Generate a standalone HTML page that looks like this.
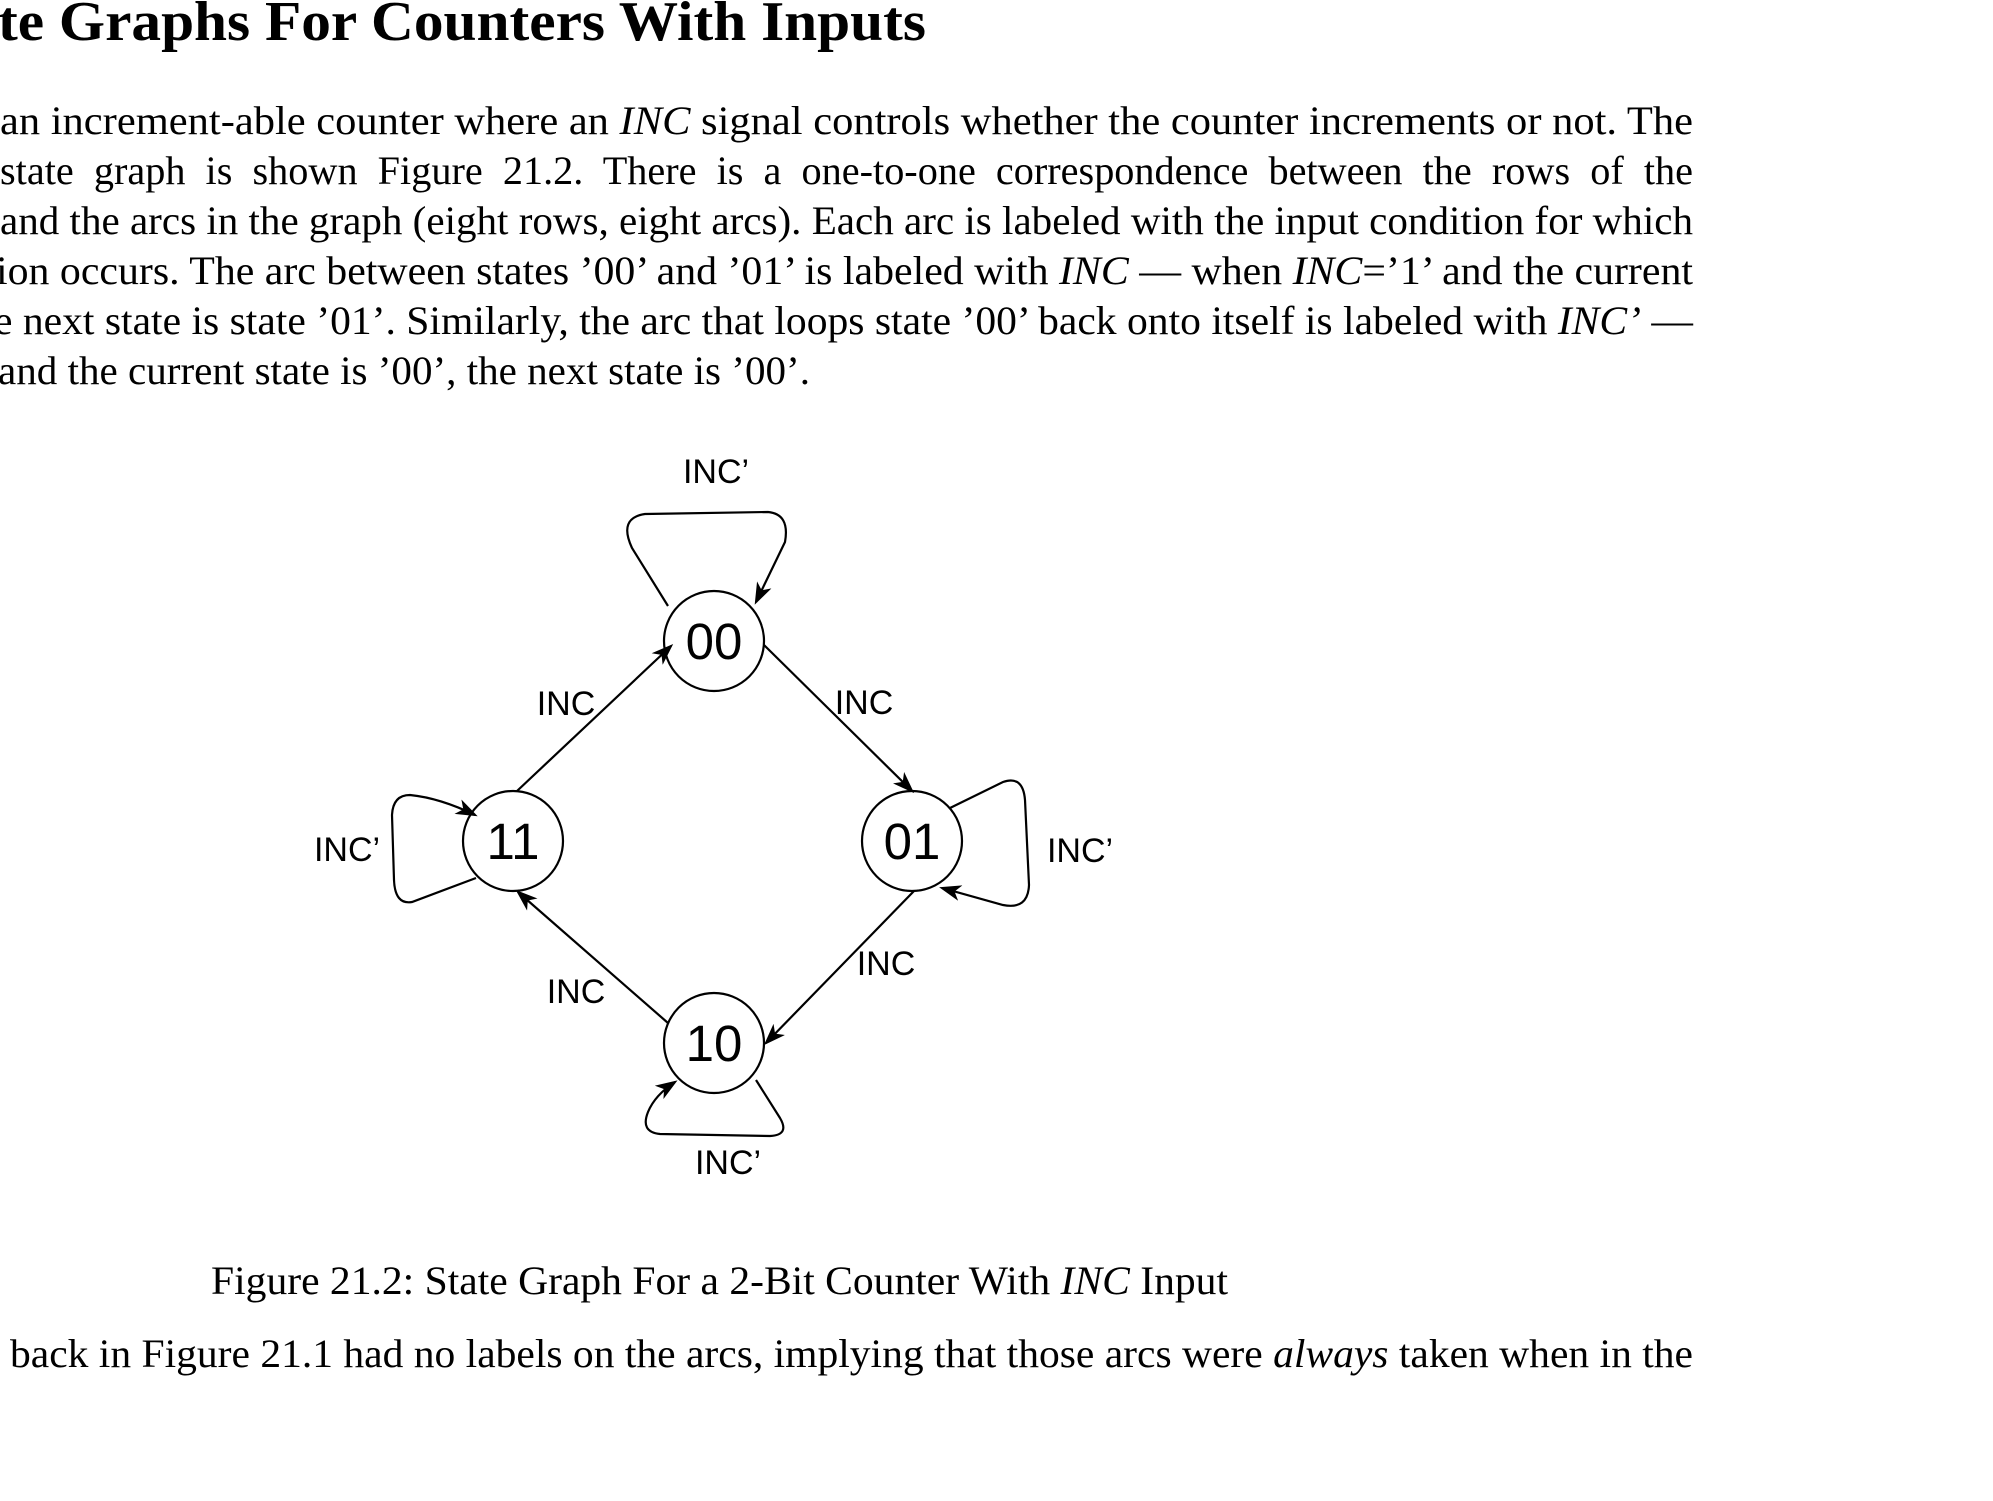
<!DOCTYPE html>
<html><head><meta charset="utf-8"><style>
html,body{margin:0;padding:0;background:#fff;}
body{width:1993px;height:1501px;overflow:hidden;}
svg{display:block;}
.b{font-family:"Liberation Serif",serif;font-size:40px;fill:#000;}
.s{font-family:"Liberation Sans",sans-serif;fill:#000;}
</style></head><body>
<svg width="1993" height="1501" viewBox="0 0 1993 1501" xmlns="http://www.w3.org/2000/svg">
<defs>
<marker id="a" markerWidth="22" markerHeight="16" refX="19" refY="8" orient="auto" markerUnits="userSpaceOnUse">
<path d="M0,0 L22,8 L0,16 L6,8 Z" fill="#000"/>
</marker>
</defs>
<text x="-2" y="40" textLength="928" lengthAdjust="spacingAndGlyphs" font-family="Liberation Serif,serif" font-weight="bold" font-size="56">te Graphs For Counters With Inputs</text>
<text class="b" x="0" y="134" textLength="1693" lengthAdjust="spacingAndGlyphs">an increment-able counter where an <tspan font-style="italic">INC</tspan> signal controls whether the counter increments or not.  The</text>
<text class="b" x="0" y="184" textLength="1693" lengthAdjust="spacingAndGlyphs" word-spacing="10">state graph is shown Figure 21.2.  There is a one-to-one correspondence between the rows of the</text>
<text class="b" x="0" y="234" textLength="1693" lengthAdjust="spacingAndGlyphs">and the arcs in the graph (eight rows, eight arcs). Each arc is labeled with the input condition for which</text>
<text class="b" x="-4" y="284" textLength="1697" lengthAdjust="spacingAndGlyphs">ion occurs. The arc between states ’00’ and ’01’ is labeled with <tspan font-style="italic">INC</tspan> — when <tspan font-style="italic">INC</tspan>=’1’ and the current</text>
<text class="b" x="-6" y="334" textLength="1699" lengthAdjust="spacingAndGlyphs">e next state is state ’01’. Similarly, the arc that loops state ’00’ back onto itself is labeled with <tspan font-style="italic">INC’</tspan> —</text>
<text class="b" x="-2" y="384" textLength="812" lengthAdjust="spacingAndGlyphs">and the current state is ’00’, the next state is ’00’.</text>

<g fill="none" stroke="#000" stroke-width="2.2">
<circle cx="714" cy="641" r="50"/>
<circle cx="513" cy="841" r="50"/>
<circle cx="912" cy="841" r="50"/>
<circle cx="714" cy="1043" r="50"/>
<line x1="517" y1="791" x2="671" y2="646" marker-end="url(#a)"/>
<line x1="764" y1="645" x2="912" y2="791" marker-end="url(#a)"/>
<line x1="914" y1="891" x2="766" y2="1043" marker-end="url(#a)"/>
<line x1="668" y1="1023" x2="518" y2="892" marker-end="url(#a)"/>
<path d="M668,606 L632,548 Q618,518 645,514 L768,512 Q790,514 785,542 L756,602" marker-end="url(#a)"/>
<path d="M476,878 L412,902 Q395,905 394,880 L392,815 Q393,795 410,795 Q440,798 475,815" marker-end="url(#a)"/>
<path d="M950,808 L1003,782 Q1023,775 1025,800 L1029,885 Q1028,910 1003,905 L942,888" marker-end="url(#a)"/>
<path d="M756,1080 L780,1118 Q790,1135 770,1136 L660,1134 Q640,1132 648,1112 Q655,1095 675,1082" marker-end="url(#a)"/>
</g>
<g class="s" font-size="51" text-anchor="middle">
<text x="714" y="659">00</text>
<text x="513" y="859">11</text>
<text x="912" y="859">01</text>
<text x="714" y="1061">10</text>
</g>
<g class="s" font-size="34" text-anchor="middle">
<text x="716" y="483">INC’</text>
<text x="566" y="715">INC</text>
<text x="864" y="714">INC</text>
<text x="347" y="861">INC’</text>
<text x="1080" y="862">INC’</text>
<text x="886" y="975">INC</text>
<text x="576" y="1003">INC</text>
<text x="728" y="1174">INC’</text>
</g>
<text class="b" x="211" y="1294" textLength="1017" lengthAdjust="spacingAndGlyphs">Figure 21.2: State Graph For a 2-Bit Counter With <tspan font-style="italic">INC</tspan> Input</text>
<text class="b" x="10" y="1367" textLength="1683" lengthAdjust="spacingAndGlyphs">back in Figure 21.1 had no labels on the arcs, implying that those arcs were <tspan font-style="italic">always</tspan> taken when in the</text>
</svg>
</body></html>
